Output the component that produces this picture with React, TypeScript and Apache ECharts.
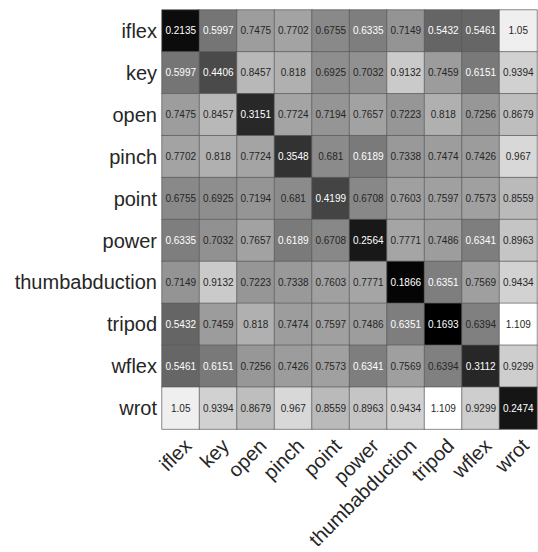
import React, { useEffect, useRef } from "react";
import * as echarts from "echarts";

const categories = ["iflex", "key", "open", "pinch", "point", "power", "thumbabduction", "tripod", "wflex", "wrot"];

const rowIflex = [0.2135, 0.5997, 0.7475, 0.7702, 0.6755, 0.6335, 0.7149, 0.5432, 0.5461, 1.05];
const rowKey = [0.5997, 0.4406, 0.8457, 0.818, 0.6925, 0.7032, 0.9132, 0.7459, 0.6151, 0.9394];
const rowOpen = [0.7475, 0.8457, 0.3151, 0.7724, 0.7194, 0.7657, 0.7223, 0.818, 0.7256, 0.8679];
const rowPinch = [0.7702, 0.818, 0.7724, 0.3548, 0.681, 0.6189, 0.7338, 0.7474, 0.7426, 0.967];
const rowPoint = [0.6755, 0.6925, 0.7194, 0.681, 0.4199, 0.6708, 0.7603, 0.7597, 0.7573, 0.8559];
const rowPower = [0.6335, 0.7032, 0.7657, 0.6189, 0.6708, 0.2564, 0.7771, 0.7486, 0.6341, 0.8963];
const rowThumb = [0.7149, 0.9132, 0.7223, 0.7338, 0.7603, 0.7771, 0.1866, 0.6351, 0.7569, 0.9434];
const rowTripod = [0.5432, 0.7459, 0.818, 0.7474, 0.7597, 0.7486, 0.6351, 0.1693, 0.6394, 1.109];
const rowWflex = [0.5461, 0.6151, 0.7256, 0.7426, 0.7573, 0.6341, 0.7569, 0.6394, 0.3112, 0.9299];
const rowWrot = [1.05, 0.9394, 0.8679, 0.967, 0.8559, 0.8963, 0.9434, 1.109, 0.9299, 0.2474];

const rows = [rowIflex, rowKey, rowOpen, rowPinch, rowPoint, rowPower, rowThumb, rowTripod, rowWflex, rowWrot];

export default function App() {
  const ref = useRef<HTMLDivElement>(null);
  useEffect(() => {
    document.body.style.margin = "0";
    if (!ref.current) return;
    const chart = echarts.init(ref.current, null, { renderer: "svg" });
    const all = rows.flat();
    const vmin = Math.min(...all);
    const vmax = Math.max(...all);
    const mid = (vmin + vmax) / 2;
    const data: any[] = [];
    rows.forEach((row, y) => {
      row.forEach((v, x) => {
        data.push({
          value: [x, y, v],
          label: { color: v < mid ? "#ffffff" : "#262626" },
        });
      });
    });
    chart.setOption({
      animation: false,
      backgroundColor: "#ffffff",
      grid: { left: 162, top: 10, width: 375, height: 426 },
      xAxis: {
        type: "category",
        data: categories,
        axisLine: { show: false },
        axisTick: { show: false },
        splitLine: { show: false },
        axisLabel: {
          rotate: 45,
          interval: 0,
          fontSize: 20,
          fontFamily: "Liberation Sans, Arial, sans-serif",
          color: "#262626",
          margin: 6,
          verticalAlign: "top",
        },
      },
      yAxis: {
        type: "category",
        data: categories,
        inverse: true,
        axisLine: { show: false },
        axisTick: { show: false },
        splitLine: { show: false },
        axisLabel: {
          interval: 0,
          fontSize: 20,
          fontFamily: "Liberation Sans, Arial, sans-serif",
          color: "#262626",
          margin: 5,
        },
      },
      visualMap: {
        show: false,
        min: vmin,
        max: vmax,
        dimension: 2,
        inRange: { color: ["#000000", "#ffffff"] },
      },
      series: [
        {
          type: "heatmap",
          data,
          itemStyle: { borderColor: "rgba(90,90,90,0.7)", borderWidth: 1 },
          label: {
            show: true,
            fontSize: 10,
            fontFamily: "Liberation Sans, Arial, sans-serif",
            formatter: (p: any) => String(p.value[2]),
          },
          emphasis: { disabled: true },
        },
      ],
    });
    return () => chart.dispose();
  }, []);
  return <div ref={ref} style={{ width: 538, height: 552 }} />;
}
